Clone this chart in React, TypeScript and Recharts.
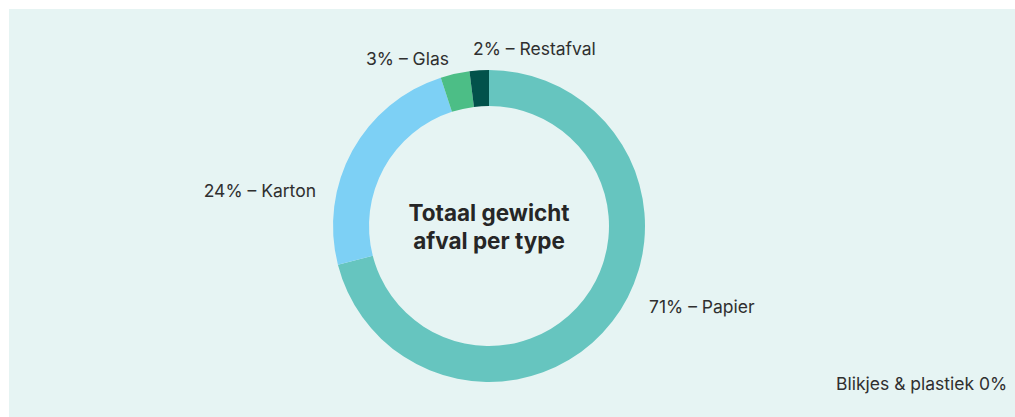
import React from 'react';
import { PieChart, Pie, Cell } from 'recharts';

// afvaltypes en aandelen (%)
const categories = ['Papier', 'Karton', 'Glas', 'Restafval', 'Blikjes & plastiek'];
const shares = [71, 24, 3, 2, 0];
const colors = ['#66c5bf', '#7dd0f5', '#4cbe86', '#02524b', '#9ad2c4'];

const data = categories.map((name, i) => ({ name, value: shares[i] }));

// label placement relative to the pie centre
const labelLayout: Record<string, { dx: number; dy: number; anchor: 'start' | 'end' }> = {
  Papier: { dx: 160, dy: 80, anchor: 'start' },
  Karton: { dx: -173, dy: -36, anchor: 'end' },
  Glas: { dx: -123, dy: -168, anchor: 'start' },
  Restafval: { dx: -16, dy: -178, anchor: 'start' },
  'Blikjes & plastiek': { dx: 347, dy: 157, anchor: 'start' },
};

const WIDTH = 1006;
const HEIGHT = 408;
const FONT = 'Inter, "Noto Sans", sans-serif';

const renderLabel = (props: any) => {
  const { cx, cy, name, value } = props;
  const l = labelLayout[name];
  if (!l) return null;
  const text = value === 0 ? `${name} ${value}%` : `${value}% – ${name}`;
  return (
    <text
      x={cx + l.dx}
      y={cy + l.dy}
      textAnchor={l.anchor}
      dominantBaseline="central"
      fill="#2f2f2f"
      fontSize={17.5}
      fontFamily={FONT}
    >
      {text}
    </text>
  );
};

const App: React.FC = () => {
  const cx = 475;
  const cy = 212;
  return (
    <div style={{ position: 'fixed', left: 9, top: 9, right: 0, bottom: 0, background: '#e6f4f3' }}>
      <PieChart width={WIDTH} height={HEIGHT}>
        <Pie
          data={data}
          dataKey="value"
          nameKey="name"
          cx={cx}
          cy={cy}
          innerRadius={120}
          outerRadius={156}
          startAngle={90}
          endAngle={-270}
          stroke="none"
          label={renderLabel}
          labelLine={false}
          isAnimationActive={false}
        >
          {data.map((d, i) => (
            <Cell key={d.name} fill={colors[i]} />
          ))}
        </Pie>
        <text
          x={cx + 5}
          y={cy - 9}
          textAnchor="middle"
          dominantBaseline="central"
          fontSize={22.5}
          fontWeight={700}
          fill="#262626"
          fontFamily={FONT}
        >
          Totaal gewicht
        </text>
        <text
          x={cx + 5}
          y={cy + 19}
          textAnchor="middle"
          dominantBaseline="central"
          fontSize={22.5}
          fontWeight={700}
          fill="#262626"
          fontFamily={FONT}
        >
          afval per type
        </text>
      </PieChart>
    </div>
  );
};

export default App;
